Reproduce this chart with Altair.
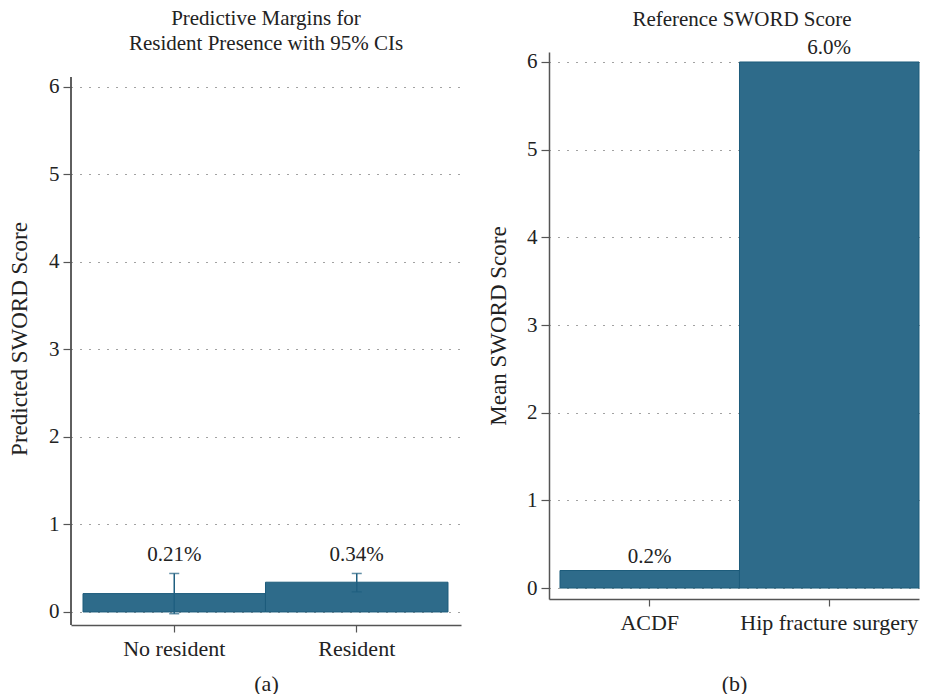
import altair as alt
import pandas as pd

# Panel (a) data
groups_a = ["No resident", "Resident"]
margins_a = [0.21, 0.34]
ci_low_a = [-0.02, 0.23]
ci_high_a = [0.44, 0.44]
labels_a = ["0.21%", "0.34%"]

# Panel (b) data
groups_b = ["ACDF", "Hip fracture surgery"]
means_b = [0.2, 6.0]
labels_b = ["0.2%", "6.0%"]

y_ticks = [0, 1, 2, 3, 4, 5, 6]

FONT = "Liberation Serif"
FILL = "#2e6b8a"
EDGE = "#1d5c7b"
ERR = "#1f5f80"
AX = "#555555"
TXT = "#222222"


def y_axis(title, pad, show_domain=True):
    return alt.Axis(title=title, values=y_ticks, format="d", grid=True,
                    gridDash=[1, 8], gridColor="#444", gridWidth=1,
                    domain=show_domain, domainColor=AX, domainWidth=1.5,
                    tickColor=AX, tickSize=8, tickWidth=1.2,
                    labelFontSize=21, labelFont=FONT, labelColor=TXT,
                    labelPadding=4, titleFont=FONT, titleFontSize=23,
                    titleFontWeight="normal", titleColor=TXT, titlePadding=pad)


def x_axis(title, pad):
    return alt.Axis(title=title, labelAngle=0, grid=False, domainColor=AX, domainWidth=1.5,
                    tickColor=AX, tickSize=7, tickWidth=1.2,
                    labelFontSize=22, labelFont=FONT, labelColor=TXT,
                    labelPadding=6, titleFont=FONT, titleFontSize=22,
                    titleFontWeight="normal", titleColor=TXT, titlePadding=pad)


df_a = pd.DataFrame({"group": groups_a, "value": margins_a, "lo": ci_low_a,
                     "hi": ci_high_a, "label": labels_a})
df_b = pd.DataFrame({"group": groups_b, "value": means_b, "label": labels_b})

NOVIEW = alt.ViewBackground(stroke="transparent", strokeWidth=0)

# ---- Panel (a)
xa_enc = alt.X("group:N", sort=groups_a)
xa = alt.X("group:N", sort=groups_a,
           scale=alt.Scale(paddingInner=0, paddingOuter=0.0685, align=0.48),
           axis=x_axis("(a)", 14))
ya = alt.Y("value:Q", scale=alt.Scale(domain=[-0.149, 6.40], nice=False, zero=False),
           axis=y_axis("Predicted SWORD Score", 17, show_domain=False))

base_a = alt.Chart(df_a)
bars_a = base_a.mark_bar(color=FILL, stroke=EDGE, strokeWidth=1).encode(
    x=xa, y=ya, y2=alt.datum(0))
yline_a = base_a.mark_rule(color=AX, strokeWidth=1.5).encode(
    x=alt.value(0), y=alt.datum(-0.149), y2=alt.datum(6.114))
err_a = base_a.mark_rule(color=ERR, strokeWidth=1.5).encode(
    x=xa_enc, y="lo:Q", y2="hi:Q")
cap_lo = base_a.mark_tick(color=ERR, thickness=1.5, size=10, orient="horizontal").encode(
    x=xa_enc, y="lo:Q")
cap_hi = base_a.mark_tick(color=ERR, thickness=1.5, size=10, orient="horizontal").encode(
    x=xa_enc, y="hi:Q")
txt_a = base_a.mark_text(font=FONT, fontSize=21, color=TXT, baseline="bottom", dy=-8).encode(
    x=xa_enc, y="hi:Q", text="label:N")

panel_a = alt.layer(bars_a, yline_a, err_a, cap_lo, cap_hi, txt_a).properties(
    width=390, height=573, view=NOVIEW,
    title=alt.TitleParams(["Predictive Margins for", "Resident Presence with 95% CIs"],
                          font=FONT, fontSize=21, fontWeight="normal", color=TXT,
                          lineHeight=25, offset=-2, anchor="middle"))

# ---- Panel (b)
xb_enc = alt.X("group:N", sort=groups_b)
xb = alt.X("group:N", sort=groups_b,
           scale=alt.Scale(paddingInner=0, paddingOuter=0.0306, align=1),
           axis=x_axis("(b)", 40))
yb = alt.Y("value:Q", scale=alt.Scale(domain=[-0.125, 6.114], nice=False, zero=False),
           axis=y_axis("Mean SWORD Score", 16))

base_b = alt.Chart(df_b)
bars_b = base_b.mark_bar(color=FILL, stroke=EDGE, strokeWidth=1).encode(
    x=xb, y=yb, y2=alt.datum(0))
txt_b = base_b.mark_text(font=FONT, fontSize=21, color=TXT, baseline="bottom", dy=-4).encode(
    x=xb_enc, y="value:Q", text="label:N")

panel_b = alt.layer(bars_b, txt_b).properties(
    width=370, height=547, view=NOVIEW,
    title=alt.TitleParams("Reference SWORD Score",
                          font=FONT, fontSize=21, fontWeight="normal", color=TXT,
                          offset=7, dx=8, anchor="middle"))

chart = alt.hconcat(panel_a, panel_b, spacing=26).resolve_scale(
    x="independent", y="independent").properties(padding=0).configure_view(
    strokeWidth=0, stroke="transparent").configure(background="white")

chart.save("out.html", embed_options={"renderer": "svg", "actions": False})
